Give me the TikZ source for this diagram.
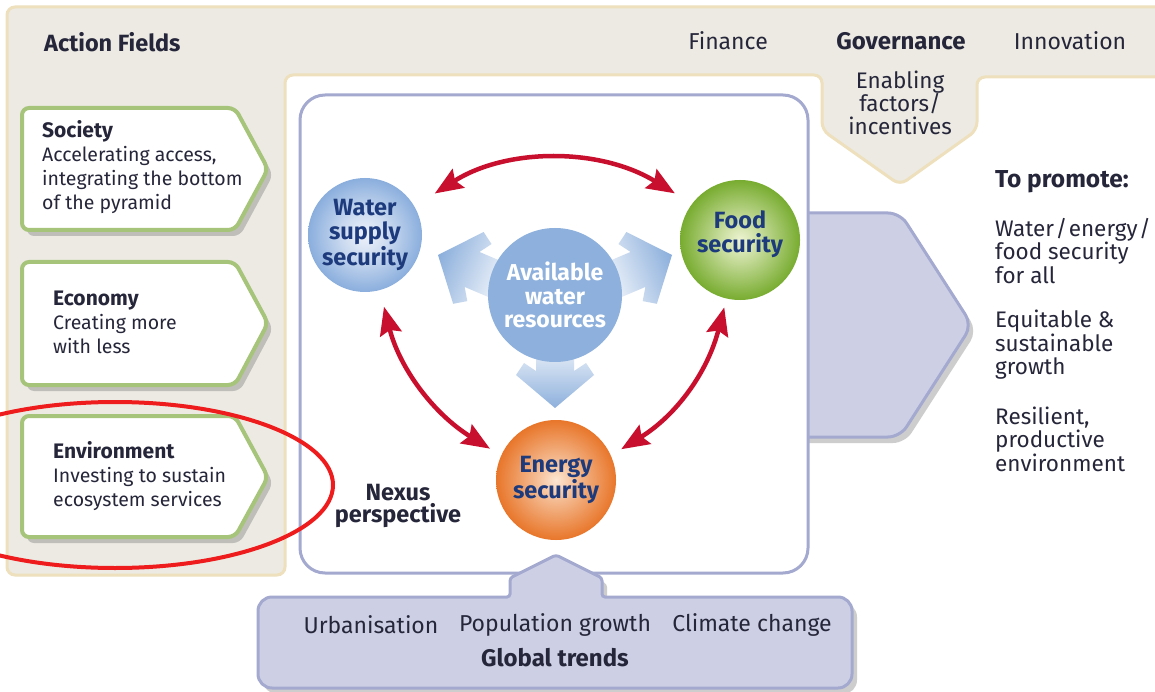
\documentclass[tikz,border=0pt]{standalone}
\usepackage{fontspec}
\setmainfont{Fira Sans}
\usetikzlibrary{arrows.meta,shadows}
\definecolor{beige}{HTML}{ECEAE3}
\definecolor{cream}{HTML}{EEE0BC}
\definecolor{grnb}{HTML}{A6C47A}
\definecolor{lavf}{HTML}{CDD0E5}
\definecolor{lavb}{HTML}{A4A9D0}
\definecolor{txt}{HTML}{26263A}
\definecolor{navy}{HTML}{1D3B7C}
\definecolor{redar}{HTML}{C8102E}
\definecolor{ellred}{HTML}{EE1C1C}
\definecolor{avblue}{HTML}{8DB0DC}
\definecolor{avlight}{HTML}{EEF3FA}
\definecolor{wblue}{HTML}{8AAEDD}
\definecolor{wlight}{HTML}{EEF2FA}
\definecolor{fgreen}{HTML}{78AC30}
\definecolor{flight}{HTML}{EEF4D2}
\definecolor{eorange}{HTML}{E8762A}
\definecolor{elight}{HTML}{FCE6D2}
\pgfdeclareradialshading{waterball}{\pgfpoint{0bp}{0bp}}{color(0bp)=(wlight); color(9bp)=(wlight!70!wblue); color(25bp)=(wblue); color(50bp)=(wblue)}
\pgfdeclareradialshading{foodball}{\pgfpoint{0bp}{0bp}}{color(0bp)=(flight); color(9bp)=(flight!65!fgreen); color(25bp)=(fgreen); color(50bp)=(fgreen)}
\pgfdeclareradialshading{energyball}{\pgfpoint{0bp}{0bp}}{color(0bp)=(elight); color(9bp)=(elight!60!eorange); color(25bp)=(eorange); color(50bp)=(eorange)}
\newcommand\boxhead[1]{{\fontsize{21}{24}\selectfont\bfseries #1}}
\begin{document}
\begin{tikzpicture}[x=1pt,y=-1pt,
  lbl/.style={inner sep=0pt, text=txt},
  boxtext/.style={lbl, align=left, anchor=west, font=\fontsize{19.5}{24}\selectfont},
  softshadow/.style={drop shadow={shadow xshift=5pt, shadow yshift=-6pt, opacity=.28, fill=black!70}},
  actbox/.style={draw=grnb, line width=4pt, fill=white, rounded corners=7pt, softshadow},
  lavshape/.style={draw=lavb, line width=3pt, fill=lavf},
  ball/.style={circle, inner sep=0pt, align=center, text=navy, font=\fontsize{23.5}{24}\selectfont\bfseries},
  redarr/.style={draw=redar, line width=4.5pt, {Stealth[length=28pt,width=22pt,inset=4pt]}-{Stealth[length=28pt,width=22pt,inset=4pt]}},
  trend/.style={lbl, font=\fontsize{23}{24}\selectfont},
  goal/.style={lbl, anchor=west, align=left, font=\fontsize{22.5}{23.5}\selectfont}
]
\useasboundingbox (0,0) rectangle (1155,692);
\fill[white] (0,0) rectangle (1155,692);

% beige action-field frame with enabling-factors pentagon
\draw[fill=beige, draw=cream, line width=3pt, rounded corners=8pt]
  (100,7) -- (1170,7) -- (1170,77) -- (977,77) -- (977,130) -- (900,185)
  -- (822,130) -- (822,75) -- (285,75) -- (285,575) -- (7,575) -- (7,7) -- cycle;

% action field boxes
\draw[actbox] (22,108) -- (235,108) -- (268,169) -- (235,230) -- (22,230) -- cycle;
\draw[actbox] (22,262) -- (235,262) -- (268,323) -- (235,385) -- (22,385) -- cycle;
\draw[actbox] (22,416) -- (235,416) -- (268,477) -- (235,537) -- (22,537) -- cycle;

% big outcome arrow
\draw[lavshape, rounded corners=12pt, softshadow]
  (790,213) -- (900,213) -- (972,325) -- (900,437) -- (790,437) -- cycle;

% nexus box
\draw[draw=lavb, line width=3pt, fill=white, rounded corners=25pt] (300,95) rectangle (808,573);

% global trends box
\draw[lavshape, softshadow]
  (258,640) [rounded corners=14pt] -- (258,597) [rounded corners=3pt] -- (510,597) -- (510,578)
  -- (556,555) -- (602,578) -- (602,597) [rounded corners=14pt] -- (852,597) -- (852,688)
  -- (258,688) [sharp corners] -- cycle;

% light blue flow arrows
\begin{scope}[shift={(555,408)}]
\shade[top color=avlight, bottom color=avblue]
  (0,0) -- (39,-33) -- (31,-45) -- (19,-37) -- (19,-64) -- (-19,-64) -- (-19,-37) -- (-31,-45) -- (-39,-33) -- cycle;
\end{scope}
\begin{scope}[shift={(438,255)}, rotate=-113]
\shade[top color=avlight, bottom color=avblue, shading angle=-113]
  (0,0) -- (39,-33) -- (31,-45) -- (19,-37) -- (19,-64) -- (-19,-64) -- (-19,-37) -- (-31,-45) -- (-39,-33) -- cycle;
\end{scope}
\begin{scope}[shift={(672,255)}, rotate=113]
\shade[top color=avlight, bottom color=avblue, shading angle=113]
  (0,0) -- (39,-33) -- (31,-45) -- (19,-37) -- (19,-64) -- (-19,-64) -- (-19,-37) -- (-31,-45) -- (-39,-33) -- cycle;
\end{scope}

% circles
\node[ball, minimum size=114pt, shading=waterball] (water) at (365,235) {Water\\supply\\security};
\node[ball, minimum size=120pt, shading=foodball] (food) at (740,240) {Food\\security\\[-8pt]\mbox{}};
\node[ball, minimum size=134pt, fill=avblue, text=white, font=\fontsize{23}{23.5}\selectfont\bfseries] (avail) at (555,295) {Available\\water\\resources};
\node[ball, minimum size=120pt, shading=energyball, font=\fontsize{23.5}{22}\selectfont\bfseries] (energy) at (556,480) {Energy\\security};

% red interaction arrows
\draw[redarr, shorten <=24pt, shorten >=20pt] (water.30) to[bend left=32] (food.143);
\draw[redarr, shorten <=17pt, shorten >=13pt] (water.-75) to[bend right=22] (energy.156);
\draw[redarr, shorten <=9pt, shorten >=12pt] (food.-103) to[bend left=22] (energy.24);

% labels
\node[lbl, anchor=west, font=\fontsize{23.5}{24}\selectfont\bfseries] (af) at (44,42) {Action Fields};
\node[lbl, font=\fontsize{23}{24}\selectfont] (fin) at (728,41) {Finance};
\node[lbl, font=\fontsize{24}{24}\selectfont\bfseries] (gov) at (901,41) {Governance};
\node[lbl, font=\fontsize{23}{24}\selectfont] (inn) at (1070,41) {Innovation};
\node[lbl, align=center, font=\fontsize{22.5}{23}\selectfont] (enab) at (900,103) {Enabling\\factors/\\incentives};

\node[boxtext] (soc) at (42,167) {\boxhead{Society}\\Accelerating access,\\integrating the bottom\\of the pyramid};
\node[boxtext] (eco) at (53,322) {\boxhead{Economy}\\Creating more\\with less};
\node[boxtext] (env) at (53,476) {\boxhead{Environment}\\Investing to sustain\\ecosystem services};

\node[lbl, align=center, font=\fontsize{23.5}{22}\selectfont\bfseries] (nexus) at (398,506) {Nexus\\perspective};

\node[lbl, anchor=west, font=\fontsize{24.5}{24}\selectfont\bfseries] (promo) at (995,182) {To promote:};
\node[goal] (goal1) at (995,251) {Water\kern1.5pt/\kern1.5pt energy\kern1.5pt/\\food security\\for all};
\node[goal] (goal2) at (995,345) {Equitable \&\\sustainable\\growth};
\node[goal] (goal3) at (995,439) {Resilient,\\productive\\environment};

\node[trend] (urb) at (371,625) {Urbanisation};
\node[trend] (pop) at (555,625) {Population growth};
\node[trend] (clim) at (752,625) {Climate change};
\node[trend, font=\fontsize{24}{24}\selectfont\bfseries] (gt) at (555,658) {Global trends};

% highlight ellipse
\draw[ellred, line width=4pt] (115,485) ellipse [x radius=218pt, y radius=83pt];
\end{tikzpicture}
\end{document}
